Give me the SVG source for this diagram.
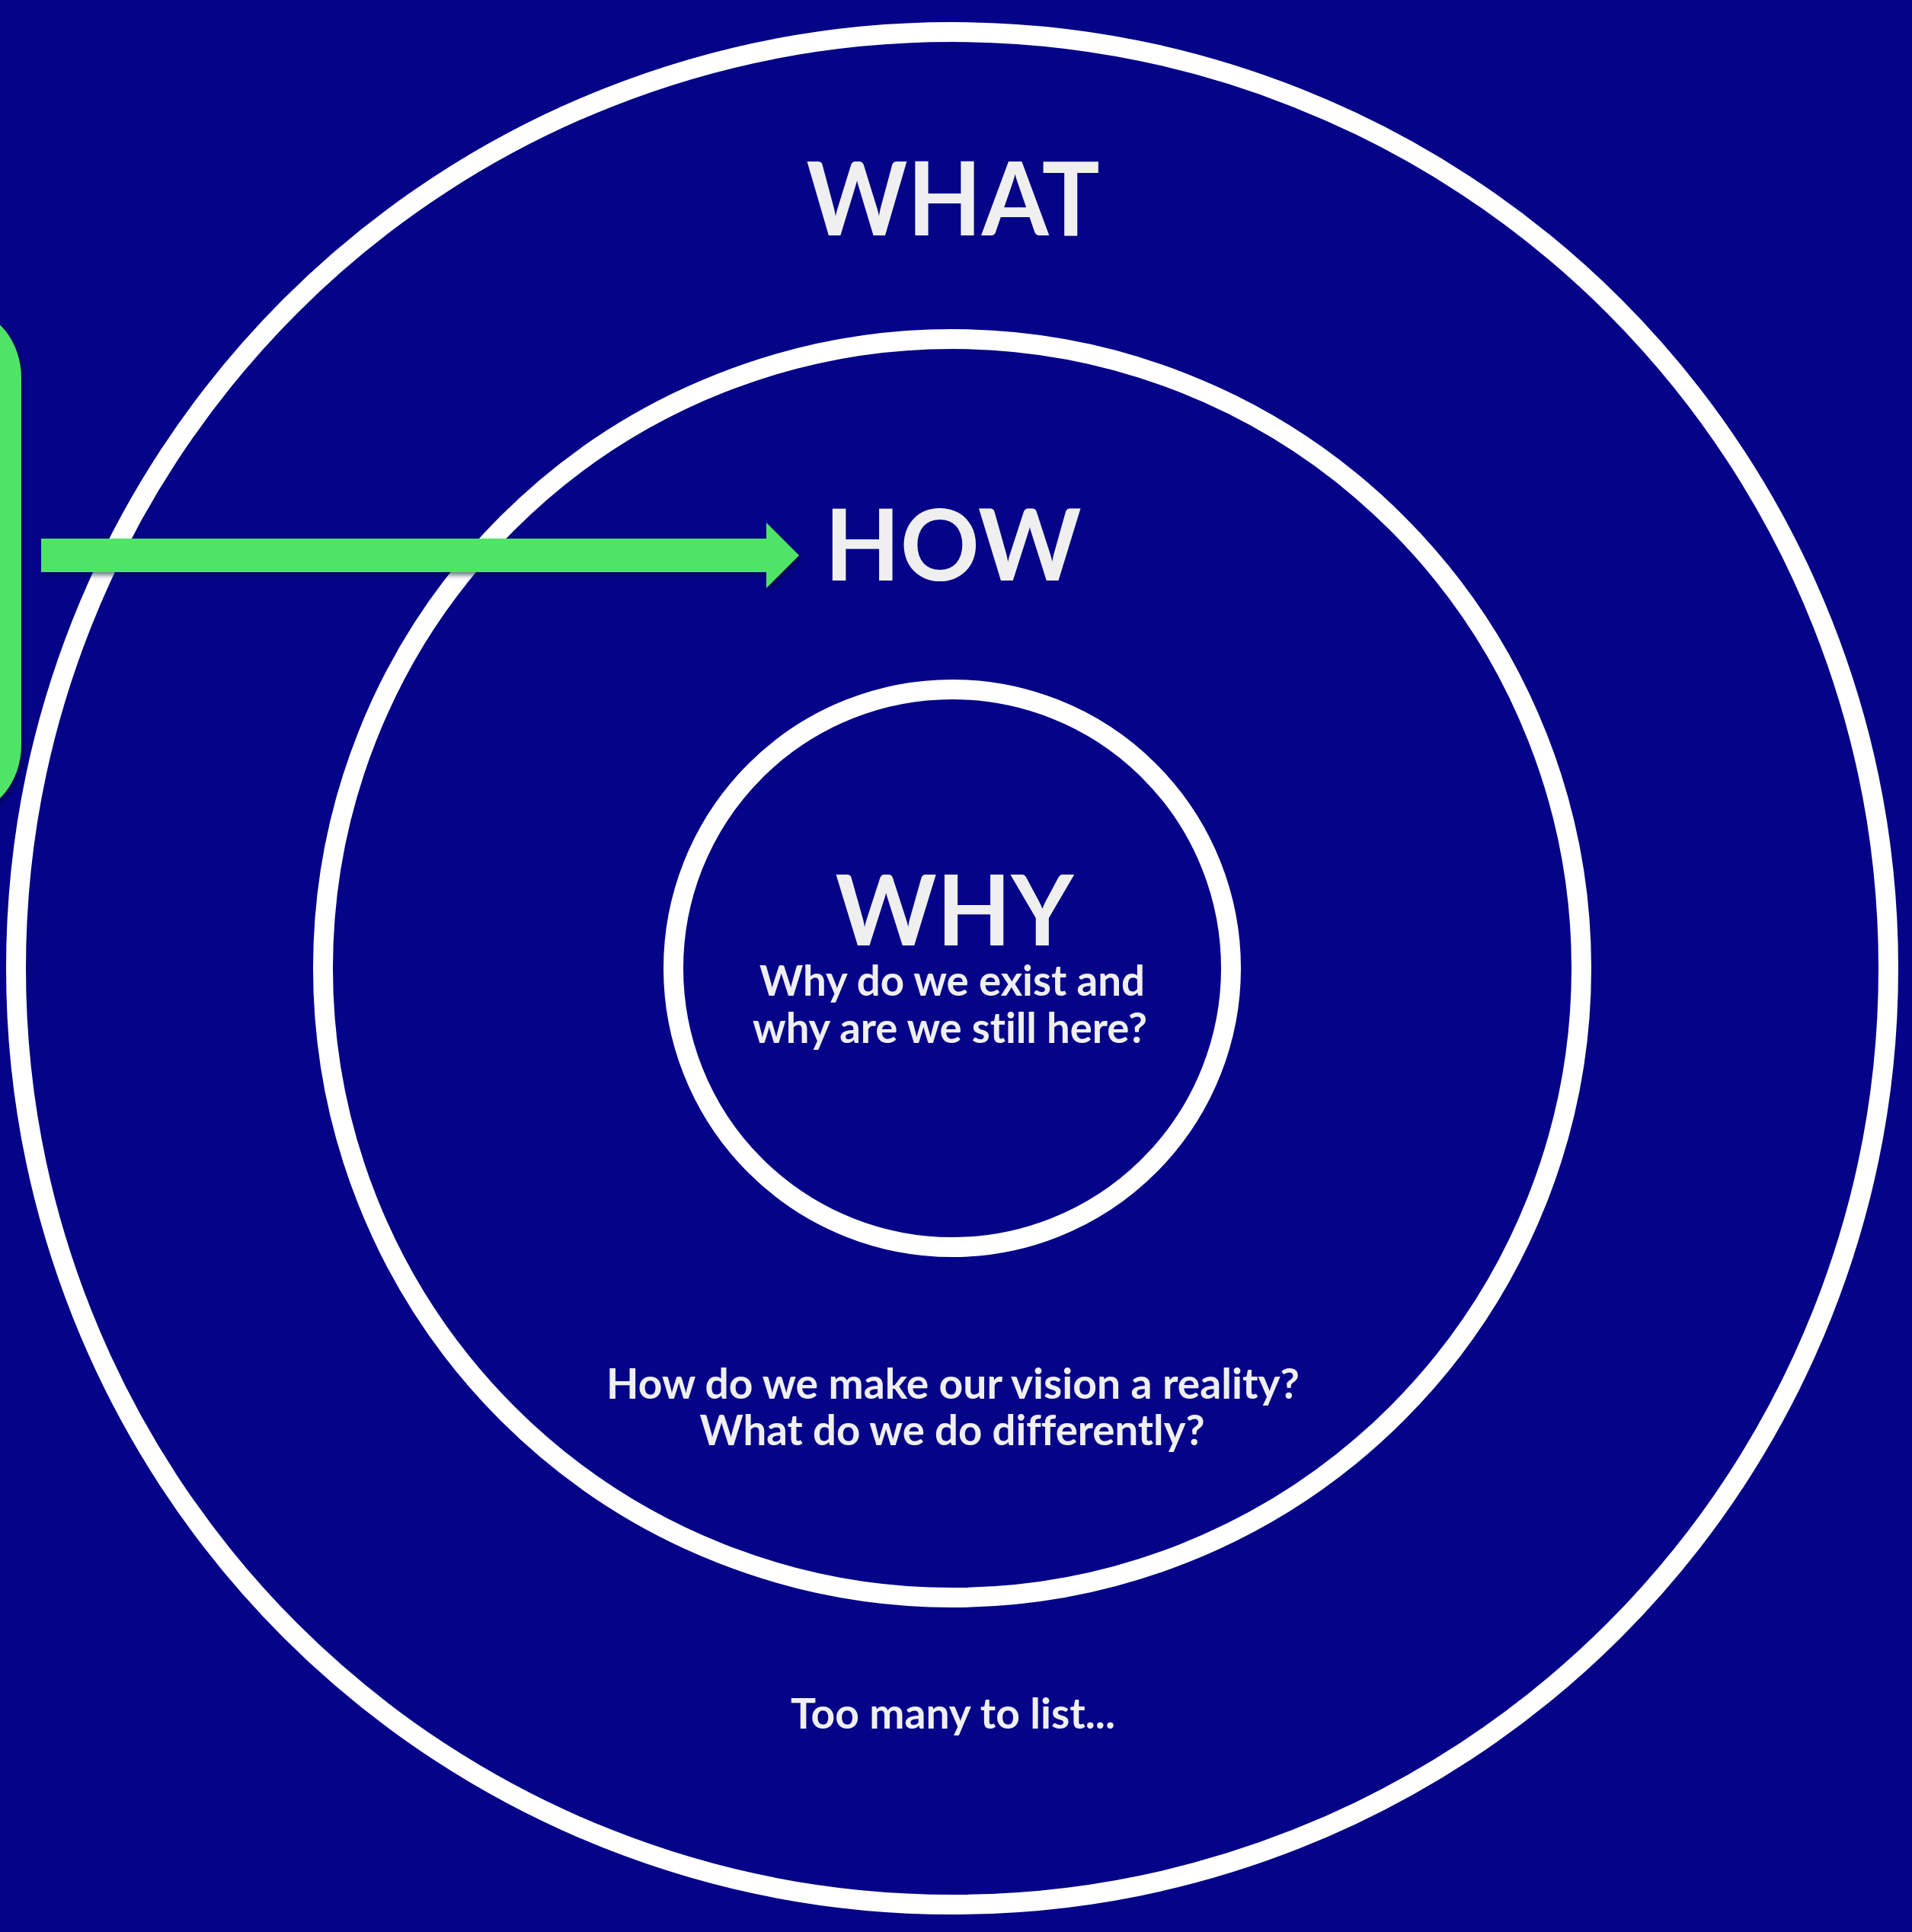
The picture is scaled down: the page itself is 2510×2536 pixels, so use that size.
<svg xmlns="http://www.w3.org/2000/svg" width="2510" height="2536" viewBox="0 0 2510 2536">
<style>
.ring{fill:none;stroke:#ffffff;stroke-width:26}
.title{font-family:Lato,"Liberation Sans",Arial,sans-serif;font-weight:bold;fill:#efefef;text-anchor:middle}
.body{font-family:Lato,"Liberation Sans",Arial,sans-serif;font-weight:bold;fill:#efefef;text-anchor:middle;font-size:56px;font-variant-ligatures:none}
.green{fill:#4fe465}
</style>
<defs>
<filter id="sh" x="-5%" y="-20%" width="110%" height="140%">
<feDropShadow dx="3" dy="4" stdDeviation="3" flood-color="#000033" flood-opacity="0.55"/>
</filter>
</defs>
<rect x="0" y="0" width="2510" height="2536" fill="#050489"/>
<g id="node-what">
<circle class="ring" cx="1250" cy="1271" r="1229"/>
<text class="title" x="1251" y="309" font-size="135" textLength="385" lengthAdjust="spacingAndGlyphs">WHAT</text>
<text class="body" x="1251" y="2269" textLength="426" lengthAdjust="spacingAndGlyphs">Too many to list...</text>
</g>
<g id="node-how">
<circle class="ring" cx="1250" cy="1271" r="826"/>
<text class="title" x="1251" y="762" font-size="131" textLength="337" lengthAdjust="spacingAndGlyphs">HOW</text>
<text class="body" x="1251" y="1836" textLength="910" lengthAdjust="spacingAndGlyphs">How do we make our vision a reality?</text>
<text class="body" x="1250" y="1897" textLength="663" lengthAdjust="spacingAndGlyphs">What do we do differently?</text>
</g>
<g id="node-why">
<circle class="ring" cx="1250" cy="1271" r="366"/>
<text class="title" x="1253" y="1241" font-size="128" textLength="313" lengthAdjust="spacingAndGlyphs">WHY</text>
<text class="body" x="1250" y="1307" textLength="506" lengthAdjust="spacingAndGlyphs">Why do we exist and</text>
<text class="body" x="1247" y="1369" textLength="518" lengthAdjust="spacingAndGlyphs">why are we still here?</text>
</g>
<g id="node-sidebar">
<rect class="green" x="-120" y="407" width="148" height="660" rx="90" ry="90" filter="url(#sh)"/>
</g>
<g id="connectors">
<polygon class="green" points="54,707 1006,707 1006,686 1049,729 1006,772 1006,751 54,751" filter="url(#sh)"/>
</g>
</svg>
